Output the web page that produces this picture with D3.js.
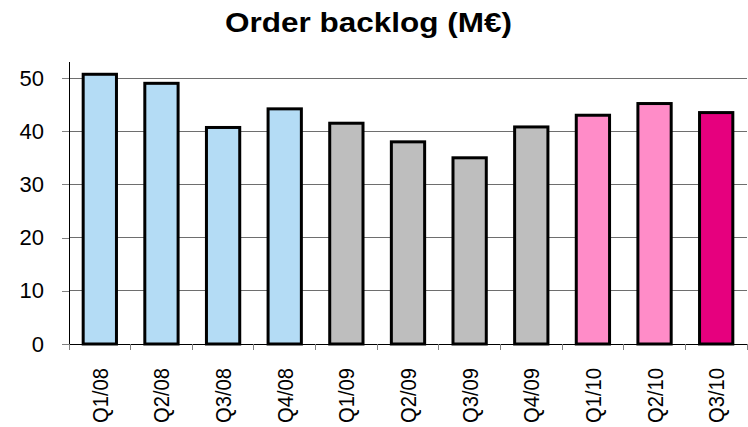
<!DOCTYPE html>
<html>
<head>
<meta charset="utf-8">
<script src="https://cdn.jsdelivr.net/npm/d3@7"></script>
<style>
  html, body { margin: 0; padding: 0; background: #fff; }
  svg { display: block; font-family: "Liberation Sans", Arial, sans-serif; }
</style>
</head>
<body>
<svg id="chart" width="748" height="427"></svg>
<script>
// Quarterly order backlog, millions of euros
const quarters = ["Q1/08", "Q2/08", "Q3/08", "Q4/08", "Q1/09", "Q2/09", "Q3/09", "Q4/09", "Q1/10", "Q2/10", "Q3/10"];
const backlog = [50.7, 49.0, 40.7, 44.2, 41.5, 38.0, 35.0, 40.8, 43.0, 45.2, 43.5];
const yTicks = [0, 10, 20, 30, 40, 50];
const yearOf = quarters.map(q => q.slice(3));
const fillByYear = { "08": "#b4dcf5", "09": "#bebebe", "10": "#ff8cc8" };
const latestFill = "#e6007e";

const svg = d3.select("#chart");
const W = 748, H = 427;
const margin = { left: 69, right: 1, top: 62, bottom: 83 };

const x = d3.scaleBand().domain(quarters).range([margin.left, W - margin.right]).paddingInner(0.46).paddingOuter(0.23);
const xOuter = d3.scaleBand().domain(quarters).range([margin.left, W - margin.right]);
const y = d3.scaleLinear().domain([0, 50]).range([H - margin.bottom, 78]);

// title
svg.append("text")
  .attr("x", 368.5).attr("y", 32)
  .attr("text-anchor", "middle")
  .attr("font-weight", "bold")
  .attr("font-size", 27)
  .attr("textLength", 287)
  .attr("lengthAdjust", "spacingAndGlyphs")
  .text("Order backlog (M€)");

// horizontal gridlines
svg.append("g").selectAll("line")
  .data(yTicks.filter(d => d > 0))
  .join("line")
  .attr("x1", margin.left).attr("x2", W - margin.right)
  .attr("y1", d => y(d)).attr("y2", d => y(d))
  .attr("stroke", "#6e6e6e").attr("stroke-width", 1).attr("shape-rendering", "crispEdges");

// y axis
const yAxis = svg.append("g")
  .attr("transform", `translate(${margin.left},0)`)
  .call(d3.axisLeft(y).tickValues(yTicks).tickSize(7).tickPadding(18).tickFormat(d3.format("d")));
yAxis.select(".domain").remove();
yAxis.selectAll(".tick line").attr("stroke", "#808080").attr("shape-rendering", "crispEdges");
yAxis.selectAll(".tick text")
  .attr("font-size", 22).attr("fill", "#000")
  .attr("font-family", "Liberation Sans, Arial, sans-serif");
svg.append("line")
  .attr("x1", margin.left).attr("x2", margin.left)
  .attr("y1", margin.top).attr("y2", y(0))
  .attr("stroke", "#000").attr("shape-rendering", "crispEdges");

// bars
svg.append("g").selectAll("rect")
  .data(quarters)
  .join("rect")
  .attr("x", d => x(d))
  .attr("width", x.bandwidth())
  .attr("y", (d, i) => y(backlog[i]))
  .attr("height", (d, i) => y(0) - y(backlog[i]))
  .attr("fill", (d, i) => i === quarters.length - 1 ? latestFill : fillByYear[yearOf[i]])
  .attr("stroke", "#000").attr("stroke-width", 3);

// x axis: baseline, category-boundary ticks, rotated labels
svg.append("line")
  .attr("x1", margin.left).attr("x2", W - margin.right)
  .attr("y1", y(0)).attr("y2", y(0))
  .attr("stroke", "#000").attr("shape-rendering", "crispEdges");
const bounds = quarters.map(q => xOuter(q)).concat([W - margin.right]);
svg.append("g").selectAll("line")
  .data(bounds)
  .join("line")
  .attr("x1", d => d).attr("x2", d => d)
  .attr("y1", y(0)).attr("y2", y(0) + 6)
  .attr("stroke", "#808080").attr("shape-rendering", "crispEdges");
svg.append("g").selectAll("text")
  .data(quarters)
  .join("text")
  .attr("transform", d => `translate(${x(d) + x.bandwidth() / 2 + 8},${y(0) + 24}) rotate(-90)`)
  .attr("text-anchor", "end")
  .attr("font-size", 22)
  .attr("textLength", 55)
  .attr("lengthAdjust", "spacingAndGlyphs")
  .text(d => d);
</script>
</body>
</html>
